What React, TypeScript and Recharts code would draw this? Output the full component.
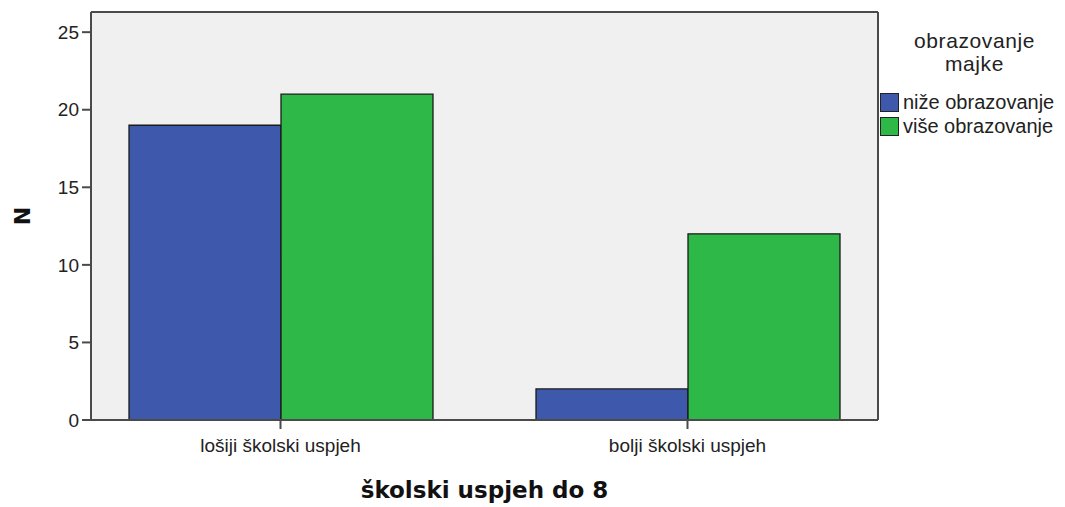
import React from 'react';
import { BarChart, Bar, XAxis, YAxis, CartesianGrid, Legend, Label } from 'recharts';

const categories = ['lošiji školski uspjeh', 'bolji školski uspjeh'];
const nizeValues = [19, 2];
const viseValues = [21, 12];
const yTicks = [0, 5, 10, 15, 20, 25];
const seriesNames = ['niže obrazovanje', 'više obrazovanje'];
const legendTitle = ['obrazovanje', 'majke'];
const xTitle = 'školski uspjeh do 8';
const yTitle = 'N';

const data = categories.map((c, i) => ({ cat: c, nize: nizeValues[i], vise: viseValues[i] }));

const BLUE = '#3E58AC';
const GREEN = '#2EB848';
const AXIS = '#4a4a4a';
const SANS = '"Liberation Sans", Arial, sans-serif';

const renderLegend = (props: any) => {
  const payload = props.payload || [];
  return (
    <div style={{ fontFamily: SANS, color: '#222', width: 185 }}>
      <div style={{ textAlign: 'center', fontSize: 21, lineHeight: '23px', marginLeft: 4, letterSpacing: 0.6 }}>
        {legendTitle.map((t) => (
          <div key={t}>{t}</div>
        ))}
      </div>
      <div style={{ marginTop: 15 }}>
        {payload.map((p: any) => (
          <div key={p.value} style={{ display: 'flex', alignItems: 'center', height: 24, fontSize: 20 }}>
            <div style={{ width: 17, height: 17, background: p.color, border: '1px solid #222', marginRight: 4 }} />
            <span>{p.value}</span>
          </div>
        ))}
      </div>
    </div>
  );
};

export default function App() {
  return (
    <div style={{ position: 'absolute', left: 0, top: 0 }}>
      <BarChart
        width={1065}
        height={507}
        data={data}
        margin={{ top: 11, right: 186, bottom: 0, left: 0 }}
        barCategoryGap={52}
        barGap={0}
      >
        <CartesianGrid horizontal={false} vertical={false} fill="#F0F0F0" />
        <XAxis
          dataKey="cat"
          height={87}
          padding={{ left: -14, right: -13 }}
          axisLine={{ stroke: AXIS, strokeWidth: 2 }}
          tickLine={{ stroke: AXIS, strokeWidth: 2 }}
          tickSize={9}
          tickMargin={10}
          tick={{ fill: '#222', fontSize: 19, fontFamily: SANS }}
        >
          <Label
            content={({ viewBox }: any) => (
              <text
                x={viewBox.x + viewBox.width / 2}
                y={viewBox.y + 78}
                textAnchor="middle"
                fontFamily='"DejaVu Sans", sans-serif'
                fontWeight="bold"
                fontSize={23}
                fill="#111"
              >
                {xTitle}
              </text>
            )}
          />
        </XAxis>
        <XAxis xAxisId="top" dataKey="cat" orientation="top" height={1} tick={false} tickLine={false} axisLine={{ stroke: AXIS, strokeWidth: 2 }} />
        <YAxis
          width={91}
          domain={[0, 26.3]}
          ticks={yTicks}
          allowDataOverflow
          axisLine={{ stroke: AXIS, strokeWidth: 2 }}
          tickLine={{ stroke: AXIS, strokeWidth: 2 }}
          tickSize={9}
          tickMargin={3}
          tick={{ fill: '#222', fontSize: 19, fontFamily: SANS }}
        >
          <Label
            content={({ viewBox }: any) => (
              <text
                x={22}
                y={viewBox.y + viewBox.height / 2}
                textAnchor="middle"
                dominantBaseline="central"
                transform={`rotate(-90 22 ${viewBox.y + viewBox.height / 2})`}
                fontFamily='"DejaVu Sans", sans-serif'
                fontWeight="bold"
                fontSize={22}
                fill="#111"
              >
                {yTitle}
              </text>
            )}
          />
        </YAxis>
        <YAxis yAxisId="right" orientation="right" width={1} domain={[0, 26.3]} tick={false} tickLine={false} axisLine={{ stroke: AXIS, strokeWidth: 2 }} />
        <Legend
          layout="horizontal"
          align="center"
          verticalAlign="middle"
          content={renderLegend}
          wrapperStyle={{ position: 'absolute', left: 880, top: 29, width: 185 }}
        />
        <Bar dataKey="nize" name={seriesNames[0]} fill={BLUE} stroke="#1a1a1a" strokeWidth={1.3} isAnimationActive={false} />
        <Bar dataKey="vise" name={seriesNames[1]} fill={GREEN} stroke="#1a1a1a" strokeWidth={1.3} isAnimationActive={false} />
      </BarChart>
    </div>
  );
}
